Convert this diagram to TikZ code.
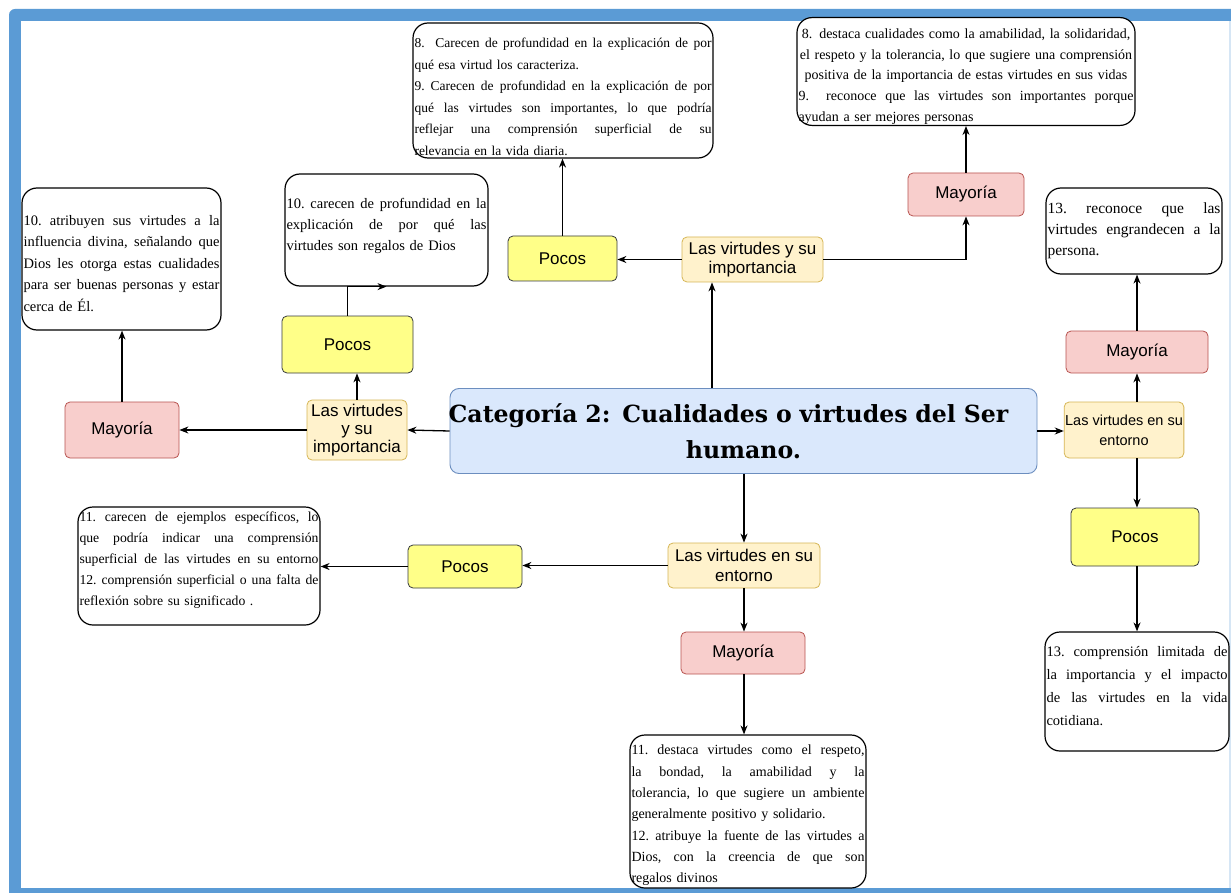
\documentclass[tikz,border=0pt]{standalone}
\usepackage{fontspec}
\setmainfont{Liberation Sans}
\newfontfamily\tnr{Liberation Serif}
\newfontfamily\ttl{DejaVu Serif}
\usetikzlibrary{arrows.meta,calc}
\definecolor{frameblue}{HTML}{5B9BD5}
\definecolor{ylfill}{HTML}{FFF2CC}
\definecolor{ylline}{HTML}{D6B656}
\definecolor{pcfill}{HTML}{FFFF88}
\definecolor{pcline}{HTML}{36393D}
\definecolor{myfill}{HTML}{F8CECC}
\definecolor{myline}{HTML}{B85450}
\definecolor{cfill}{HTML}{DAE8FC}
\definecolor{cline}{HTML}{6C8EBF}
\newcommand{\jl}[1]{\leavevmode\hbox to \hsize{\frenchspacing\spaceskip=\fontdimen2\font plus 1fil\relax #1}}
\newcommand{\cl}[1]{\makebox[\hsize][c]{#1}}
\newcommand{\dpth}[1]{\rule[-#1pt]{0pt}{0pt}}
\newcommand{\tph}[1]{\rule{0pt}{#1pt}}
\tikzset{
  lab/.style={draw, rounded corners=5pt, line width=0.8pt, font=\fontsize{17}{19.5}\selectfont, align=center, inner sep=1pt},
  imp/.style={lab, fill=ylfill, draw=ylline},
  pocos/.style={lab, fill=pcfill, draw=pcline},
  mayo/.style={lab, fill=myfill, draw=myline},
  tbox/.style={draw=black, rounded corners=15pt, line width=1.2pt, fill=white, align=left, inner xsep=1.5pt, inner ysep=1pt},
  arr/.style={line width=1.3pt, -{Stealth[length=9pt,width=7pt]}},
  ln/.style={line width=1.3pt}
}
\begin{document}
\begin{tikzpicture}[x=1pt,y=-1pt]
\useasboundingbox (0,0) rectangle (1231,893);
\fill[white] (0,0) rectangle (1231,893);
\fill[frameblue, rounded corners=6pt] (9,9) rectangle (1260,915);
\fill[white] (21,21) rectangle (1229,888);
\fill[frameblue!25] (1229,21) rectangle (1231,888);

% central
\node[draw=cline, fill=cfill, rounded corners=9pt, line width=0.9pt, minimum width=587pt, minimum height=85pt, text width=581pt, inner xsep=3pt, align=center,
  font=\ttl\bfseries\fontsize{23.6}{36}\selectfont] (central) at (743.5,431)
  {\cl{Categoría 2: Cualidades o virtudes del Ser\hspace*{30pt}}\\humano.};

% label boxes
\node[imp, minimum width=141pt, minimum height=45pt] (imp1) at (752.5,259.5) {Las virtudes y su\\importancia};
\node[pocos, minimum width=109pt, minimum height=45pt] (pocos1) at (562.5,258.5) {Pocos};
\node[mayo, minimum width=116pt, minimum height=43pt] (may1) at (966,194.5) {Mayoría};
\node[imp, minimum width=100pt, minimum height=60pt, font=\fontsize{17}{18}\selectfont] (imp2) at (357,430) {Las virtudes\\y su\\importancia};
\node[mayo, minimum width=114pt, minimum height=56pt] (may2) at (122,430) {Mayoría};
\node[pocos, minimum width=131pt, minimum height=57pt] (pocos2) at (347.5,344.5) {Pocos};
\node[imp, minimum width=118pt, minimum height=56pt, font=\fontsize{14.5}{20}\selectfont] (ent1) at (1124,430) {Las virtudes en su\\entorno};
\node[mayo, minimum width=142pt, minimum height=42pt] (may3) at (1137,352) {Mayoría};
\node[pocos, minimum width=128pt, minimum height=58pt] (pocos3) at (1135,537) {Pocos};
\node[imp, minimum width=152pt, minimum height=45pt] (ent2) at (744,565.5) {Las virtudes en su\\entorno};
\node[pocos, minimum width=114pt, minimum height=43pt] (pocos4) at (465,566.5) {Pocos};
\node[mayo, minimum width=124pt, minimum height=42pt] (may4) at (743,653) {Mayoría};

% text boxes
\node[tbox, minimum width=300pt, text width=297pt, minimum height=135pt, font=\tnr\fontsize{13.5}{21.6}\selectfont] (t1) at (563,90.5)
{\jl{\tph{22}8.\ \ Carecen de profundidad en la explicación de por}\\
qué esa virtud los caracteriza.\\
\jl{9. Carecen de profundidad en la explicación de por}\\
\jl{qué las virtudes son importantes, lo que podría}\\
\jl{reflejar una comprensión superficial de su}\\
relevancia en la vida diaria.};

\node[tbox, minimum width=338pt, text width=335pt, minimum height=103pt, font=\tnr\fontsize{14}{20.7}\selectfont] (t2) at (966,71.5)
{\cl{\tph{20}8. destaca cualidades como la amabilidad, la solidaridad,}\\
\cl{el respeto y la tolerancia, lo que sugiere una comprensión}\\
\cl{positiva de la importancia de estas virtudes en sus vidas}\\
\jl{9.\ \ reconoce que las virtudes son importantes porque}\\
ayudan a ser mejores personas};

\node[tbox, minimum width=199pt, text width=196pt, minimum height=142pt, font=\tnr\fontsize{14.5}{21.6}\selectfont] (t3) at (121.5,259)
{\jl{\tph{19}10. atribuyen sus virtudes a la}\\
\jl{influencia divina, señalando que}\\
\jl{Dios les otorga estas cualidades}\\
\jl{para ser buenas personas y estar}\\
cerca de Él.};

\node[tbox, minimum width=203pt, text width=200pt, minimum height=112pt, font=\tnr\fontsize{14.5}{21}\selectfont] (t4) at (386.5,230)
{\jl{10. carecen de profundidad en la}\\
\jl{explicación de por qué las}\\
virtudes son regalos de Dios\dpth{12}};

\node[tbox, minimum width=176pt, text width=173pt, minimum height=86pt, font=\tnr\fontsize{15.5}{21}\selectfont] (t5) at (1134,231)
{\jl{13.\ \ reconoce\ \ que\ \ las}\\
\jl{virtudes engrandecen a la}\\
persona.};

\node[tbox, minimum width=184pt, text width=181pt, minimum height=119pt, font=\tnr\fontsize{14.5}{22.7}\selectfont] (t6) at (1137,691.5)
{\jl{13. comprensión limitada de}\\
\jl{la importancia y el impacto}\\
\jl{de las virtudes en la vida}\\
cotidiana.\dpth{11}};

\node[tbox, minimum width=242pt, text width=239pt, minimum height=118pt, font=\tnr\fontsize{13.7}{21}\selectfont] (t7) at (199,566)
{\jl{11. carecen de ejemplos específicos, lo}\\
\jl{que podría indicar una comprensión}\\
\jl{superficial de las virtudes en su entorno}\\
\jl{12. comprensión superficial o una falta de}\\
reflexión sobre su significado .\dpth{15}};

\node[tbox, minimum width=236pt, text width=233pt, minimum height=153pt, font=\tnr\fontsize{14}{21.3}\selectfont] (t8) at (748,811.5)
{\jl{\tph{17.5}11. destaca virtudes como el respeto,}\\
\jl{la bondad, la amabilidad y la}\\
\jl{tolerancia, lo que sugiere un ambiente}\\
generalmente positivo y solidario.\\
\jl{12. atribuye la fuente de las virtudes a}\\
\jl{Dios, con la creencia de que son}\\
regalos divinos};

% helper x positions
\coordinate (xa) at (712,0);
\coordinate (xb) at (1137,0);
\coordinate (xc) at (744,0);

% connectors
\draw[arr] (central.north -| xa) -- (imp1.south -| xa);
\draw[arr] (imp1.west) -- (imp1.west -| pocos1.east);
\draw[arr] (pocos1.north) -- (pocos1.north |- t1.south);
\draw[arr] (imp1.east) -| (may1.south);
\draw[arr] (may1.north) -- (t2.south);
\draw[arr] (central.west) -- (imp2.east);
\draw[arr] (imp2.west) -- (may2.east);
\draw[arr] (may2.north) -- (may2.north |- t3.south);
\draw[arr] (imp2.north) -- (imp2.north |- pocos2.south);
\draw[arr] (pocos2.north) |- (t4.south);
\draw[arr] (central.east) -- (central.east -| ent1.west);
\draw[arr] (ent1.north -| xb) -- (may3.south -| xb);
\draw[arr] (may3.north -| xb) -- (t5.south -| xb);
\draw[arr] (ent1.south -| xb) -- (pocos3.north -| xb);
\draw[arr] (pocos3.south -| xb) -- (t6.north -| xb);
\draw[arr] (central.south -| xc) -- (ent2.north -| xc);
\draw[arr] (ent2.west) -- (ent2.west -| pocos4.east);
\draw[arr] (pocos4.west) -- (pocos4.west -| t7.east);
\draw[arr] (ent2.south -| xc) -- (may4.north -| xc);
\draw[arr] (may4.south -| xc) -- (t8.north -| xc);
\end{tikzpicture}
\end{document}
